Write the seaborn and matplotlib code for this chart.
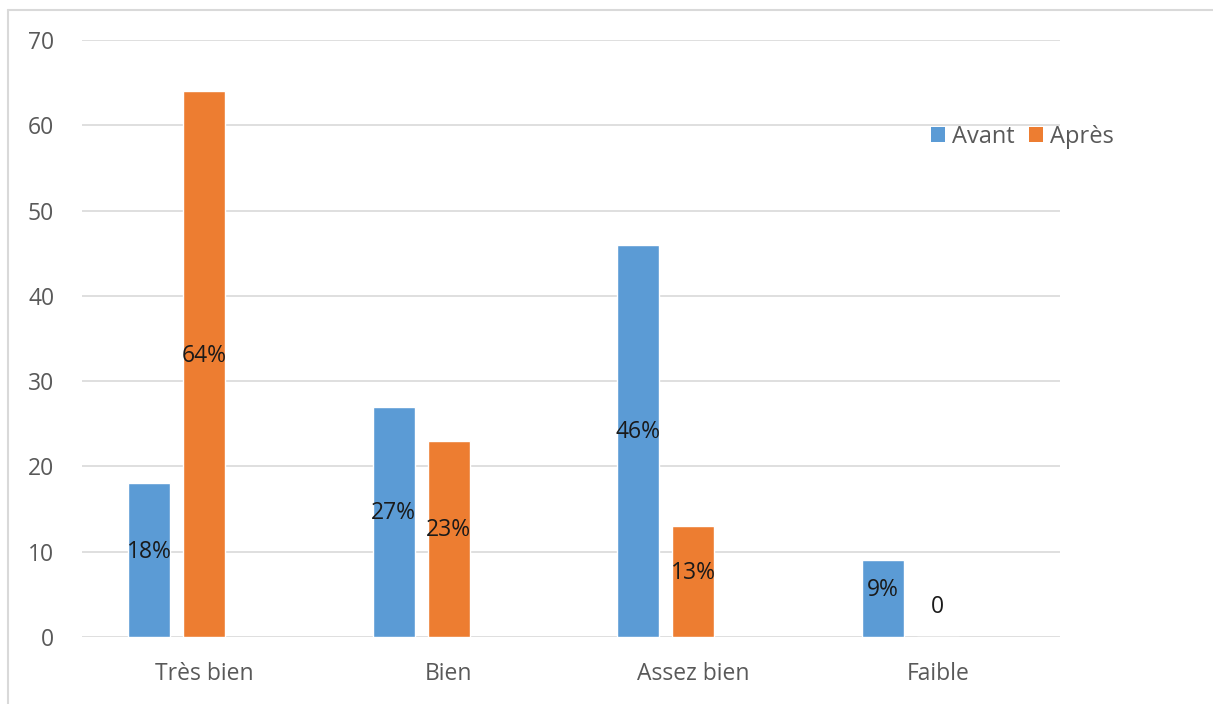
import matplotlib
matplotlib.use("Agg")
import matplotlib.pyplot as plt
from matplotlib.patches import Patch
from matplotlib.lines import Line2D
import pandas as pd
import seaborn as sns

categories = ["Très bien", "Bien", "Assez bien", "Faible"]
avant = [18, 27, 46, 9]
apres = [64, 23, 13, 0]
series = ["Avant", "Après"]
y_ticks = [0, 10, 20, 30, 40, 50, 60, 70]

colors = {"Avant": "#5B9BD5", "Après": "#ED7D31", " ": "#FFFFFF"}

df = pd.DataFrame({
    "cat": categories * 2,
    "serie": ["Avant"] * 4 + ["Après"] * 4,
    "val": avant + apres,
})

sns.set_theme(style="white")
plt.rcParams["font.family"] = ["Open Sans", "DejaVu Sans"]

fig = plt.figure(figsize=(12.13, 7.04), dpi=100)
ax = fig.add_axes([0.0676, 0.0952, 0.8063, 0.848])

# Three slots per category (third one empty) as in the spreadsheet layout
sns.barplot(data=df, x="cat", y="val", hue="serie",
            hue_order=["Avant", "Après", " "], order=categories,
            palette=colors, width=0.6735, gap=0.236,
            saturation=1, legend=False, ax=ax, errorbar=None)

ax.set_xlim(-0.5, 3.5)
ax.set_ylim(0, 70)
ax.set_yticks(y_ticks)
ax.set_xlabel("")
ax.set_ylabel("")
for s in ax.spines.values():
    s.set_visible(False)
ax.grid(axis="y", color="#D9D9D9", linewidth=1.2)
ax.set_axisbelow(True)
ax.tick_params(axis="y", length=0, pad=20, labelsize=16.5, labelcolor="#595959")
ax.tick_params(axis="x", length=0, pad=18, labelsize=16.5, labelcolor="#595959")

# Value labels centred in each bar
for cont, vals in zip(ax.containers, [avant, apres]):
    for rect, v in zip(cont, vals):
        cx = rect.get_x() + rect.get_width() / 2
        if v > 0:
            ax.text(cx, v / 2 + 1.0, f"{v}%", ha="center", va="center",
                    fontsize=16.5, color="#1A1A1A")
        else:
            ax.text(cx, 3.5, f"{v}", ha="center", va="center",
                    fontsize=16.5, color="#1A1A1A")

handles = [Patch(facecolor=colors[s], edgecolor="none") for s in series]
fig.legend(handles, series, loc="center left", bbox_to_anchor=(0.750, 0.805),
           ncol=2, frameon=False, fontsize=17, handlelength=0.6,
           handleheight=0.6, handletextpad=0.3, columnspacing=0.6,
           labelcolor="#595959")

# Outer chart frame (top and left edges)
fig.add_artist(Line2D([8 / 1213, 8 / 1213], [0, 1 - 10 / 704],
                      transform=fig.transFigure, color="#D9D9D9", linewidth=1.5))
fig.add_artist(Line2D([8 / 1213, 1], [1 - 10 / 704, 1 - 10 / 704],
                      transform=fig.transFigure, color="#D9D9D9", linewidth=1.5))

fig.savefig("out.png", dpi=100)
